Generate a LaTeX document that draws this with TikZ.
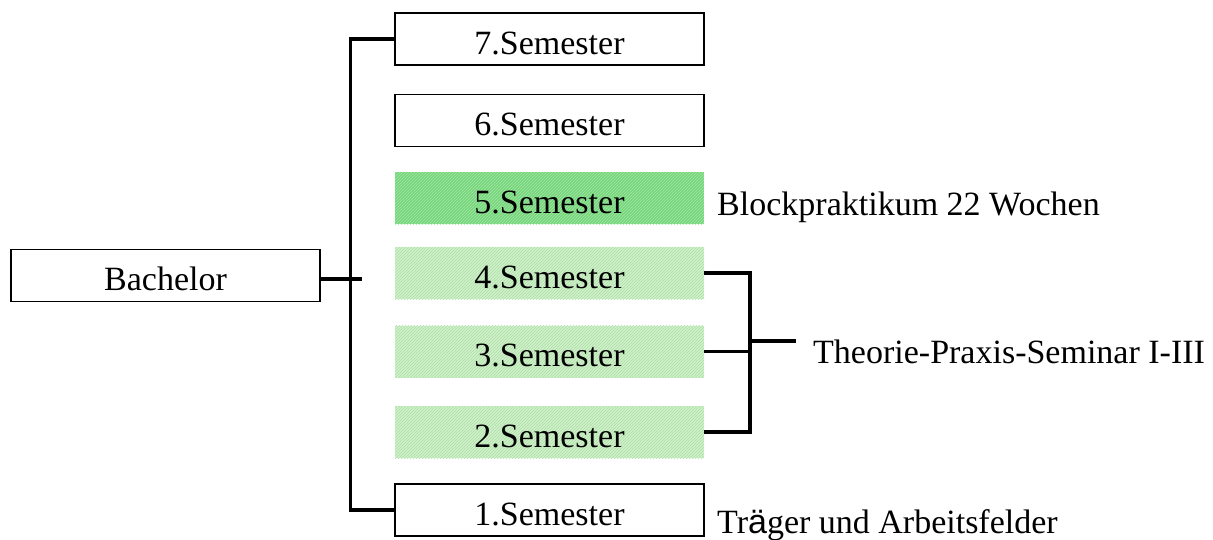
\documentclass[tikz,border=0pt]{standalone}
\usepackage{fontspec}
\setmainfont{Liberation Serif}
\newfontfamily\arialfont{Liberation Sans}
\usepackage{xcolor}
\usepackage{tikz}
\usetikzlibrary{positioning, calc, patterns}

\definecolor{blockgreen}{RGB}{118,214,124}
\definecolor{blockgreenlt}{RGB}{165,232,165}
\definecolor{tpsgreen}{RGB}{208,240,202}
\definecolor{tpsgreendk}{RGB}{172,224,166}

\tikzset{
  semtext/.style={minimum width=309pt, minimum height=52pt, inner sep=0pt, text height=30pt, text depth=0pt},
  sembox/.style={semtext, draw, line width=1.8pt, fill=white},
  blockbox/.style={semtext, preaction={fill=blockgreen}, pattern=north east lines, pattern color=blockgreenlt},
  tpsbox/.style={semtext, preaction={fill=tpsgreen}, pattern=north east lines, pattern color=tpsgreendk},
  note/.style={inner sep=0pt, anchor=base west},
  link/.style={line width=3.5pt}
}

\begin{document}
\begin{tikzpicture}[x=1pt, y=-1pt, font=\fontsize{34}{40}\selectfont]
        \useasboundingbox (0,0) rectangle (1213,539);

        % Bachelor
        \node[sembox] (bach) at (165.5,275.5) {Bachelor};

        % Semester boxes
        \node[sembox] (s7) at (549.5,39) {7.Semester};
        \node[sembox] (s6) at (549.5,120.5) {6.Semester};
        \node[blockbox] (s5) at (549.5,198) {5.Semester};
        \node[tpsbox] (s4) at (549.5,273) {4.Semester};
        \node[tpsbox] (s3) at (549.5,351.5) {3.Semester};
        \node[tpsbox] (s2) at (549.5,432) {2.Semester};
        \node[sembox] (s1) at (549.5,510) {1.Semester};

        % Notes
        \node[note] (block) at (717,215) {Blockpraktikum 22 Wochen};
        \node[note] (theo) at (813,363) {Theorie-Praxis-Seminar I-III};
        \node[note] (traeger) at (717,533) {Tr{\arialfont ä}ger und Arbeitsfelder};

        % Spine
        \coordinate (spine) at (350.5,279);
        \coordinate (stub) at (362,279);
        \draw[link] (s7.west) -| (spine) |- (s1.west);
        \draw[link] (bach.east |- stub) -- (stub);

        % Bracket for seminar
        \coordinate (jn) at (750,341);
        \coordinate (tp) at (796,341);
        \draw[link] (s4.east) -| (jn) |- (s2.east);
        \draw[link] (s3.east) -- (s3.east -| jn);
        \draw[link] (jn) -- (tp);
\end{tikzpicture}
\end{document}
